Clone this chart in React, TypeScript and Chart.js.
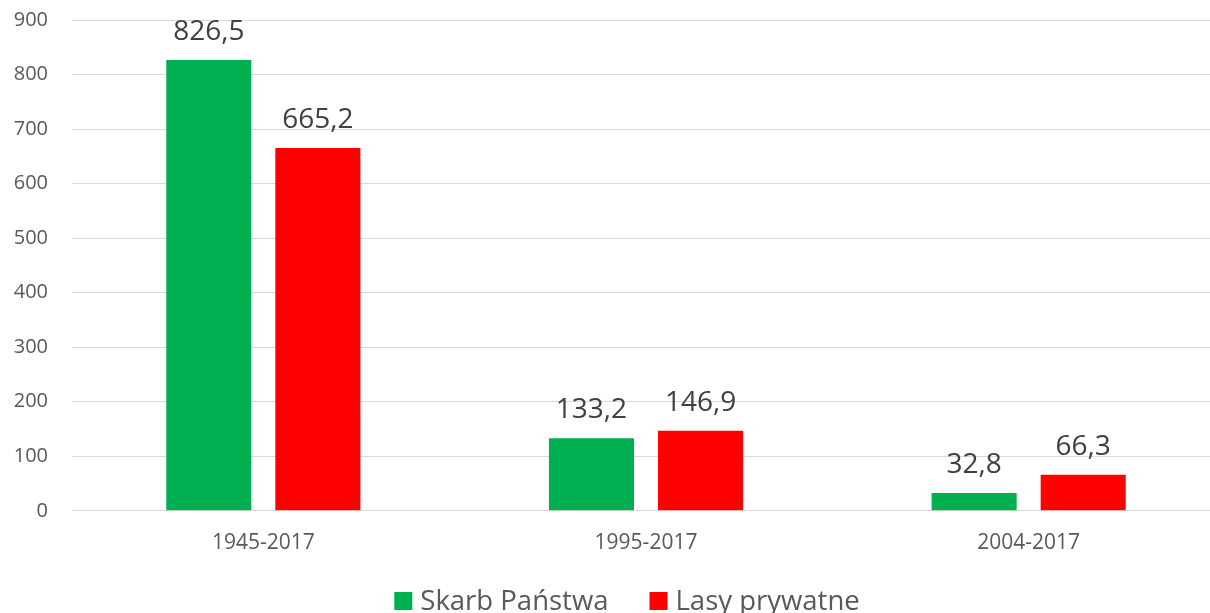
import React, { useEffect, useRef } from "react";
import { Chart, registerables } from "chart.js";

Chart.register(...registerables);

const categories = ["1945-2017", "1995-2017", "2004-2017"];
const seriesNames = ["Skarb Państwa", "Lasy prywatne"];
const skarbPanstwa = [826.5, 133.2, 32.8];
const lasyPrywatne = [665.2, 146.9, 66.3];
const yTicks = [0, 100, 200, 300, 400, 500, 600, 700, 800, 900];

const GREEN = "#00B050";
const RED = "#FF0000";
const FONT = "'Open Sans', 'Liberation Sans', sans-serif";

const fmt = (v: number) => v.toFixed(1).replace(".", ",");

const dataLabelPlugin = {
  id: "dataLabels",
  afterDatasetsDraw(chart: any) {
    const ctx = chart.ctx;
    ctx.save();
    ctx.font = `28px ${FONT}`;
    ctx.fillStyle = "#404040";
    ctx.textAlign = "center";
    ctx.textBaseline = "alphabetic";
    chart.data.datasets.forEach((ds: any, i: number) => {
      const meta = chart.getDatasetMeta(i);
      meta.data.forEach((bar: any, j: number) => {
        ctx.fillText(fmt(ds.data[j]), bar.x, bar.y - 20);
      });
    });
    ctx.restore();
  },
};

const customLegendPlugin = {
  id: "customLegend",
  afterDraw(chart: any) {
    const ctx = chart.ctx;
    ctx.save();
    const fontSize = 27.5;
    ctx.font = `${fontSize}px ${FONT}`;
    const box = 18;
    const gap = 8;
    const itemGap = 41;
    const items = chart.data.datasets.map((ds: any) => ({
      label: ds.label,
      color: ds.backgroundColor,
      w: box + gap + ctx.measureText(ds.label).width,
    }));
    const total =
      items.reduce((s: number, it: any) => s + it.w, 0) + itemGap * (items.length - 1);
    let x = chart.width / 2 - total / 2;
    const cy = 601;
    items.forEach((it: any) => {
      ctx.fillStyle = it.color;
      ctx.fillRect(x, cy - box / 2, box, box);
      ctx.fillStyle = "#595959";
      ctx.textAlign = "left";
      ctx.textBaseline = "middle";
      ctx.fillText(it.label, x + box + gap, cy + 1);
      x += it.w + itemGap;
    });
    ctx.restore();
  },
};

export default function App() {
  const ref = useRef<HTMLCanvasElement | null>(null);
  useEffect(() => {
    if (!ref.current) return;
    const chart = new Chart(ref.current, {
      type: "bar",
      data: {
        labels: categories,
        datasets: [
          {
            label: seriesNames[0],
            data: skarbPanstwa,
            backgroundColor: GREEN,
            barPercentage: 0.78,
            categoryPercentage: 0.57,
          },
          {
            label: seriesNames[1],
            data: lasyPrywatne,
            backgroundColor: RED,
            barPercentage: 0.78,
            categoryPercentage: 0.57,
          },
        ],
      },
      options: {
        responsive: false,
        animation: false,
        layout: { padding: { left: 0, right: 34, top: 20, bottom: 37 } },
        plugins: {
          legend: { display: false },
          tooltip: { enabled: false },
        },
        scales: {
          x: {
            grid: { display: false, drawTicks: false },
            border: { display: false },
            ticks: {
              color: "#595959",
              font: { family: FONT, size: 21 },
              padding: 20,
            },
          },
          y: {
            min: 0,
            max: 900,
            afterFit: (scale: any) => {
              scale.width = 72;
              scale.paddingTop = 10;
              scale.paddingBottom = 10;
            },
            afterBuildTicks: (scale: any) => {
              scale.ticks = yTicks.map((v) => ({ value: v }));
            },
            grid: { color: "#D9D9D9", lineWidth: 1, drawTicks: false },
            border: { display: false },
            ticks: {
              color: "#595959",
              font: { family: FONT, size: 20 },
              padding: 24,
            },
          },
        },
      },
      plugins: [dataLabelPlugin, customLegendPlugin],
    });
    return () => chart.destroy();
  }, []);

  return (
    <div
      style={{
        position: "fixed",
        left: 0,
        top: 0,
        width: 1210,
        height: 613,
        overflow: "hidden",
        background: "#fff",
      }}
    >
      <canvas ref={ref} width={1254} height={613} style={{ display: "block" }} />
    </div>
  );
}
